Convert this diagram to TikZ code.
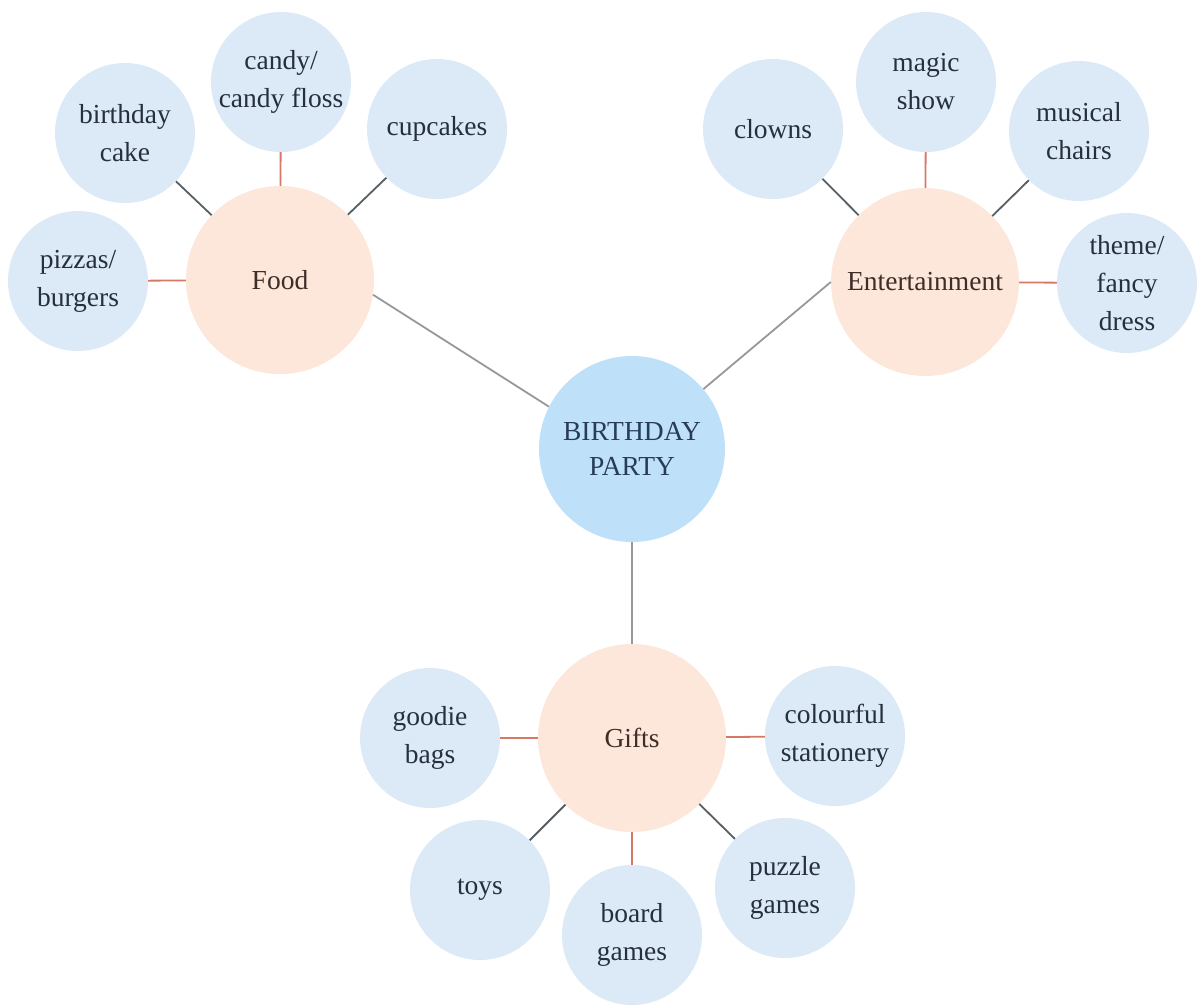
\documentclass[tikz,border=0pt]{standalone}
\usepackage{fontspec}
\setmainfont{Liberation Serif}
\definecolor{leafblue}{RGB}{219,234,246}
\definecolor{catpeach}{RGB}{253,230,218}
\definecolor{hubblue}{RGB}{190,225,249}
\definecolor{leaftext}{RGB}{38,48,60}
\definecolor{cattext}{RGB}{62,46,40}
\definecolor{hubtext}{RGB}{40,60,88}
\definecolor{diagline}{RGB}{85,95,100}
\definecolor{redline}{RGB}{214,120,104}
\definecolor{hubline}{RGB}{150,152,155}
\tikzset{
  leaf/.style={circle, fill=leafblue, minimum size=140pt, inner sep=0pt, align=center, text=leaftext, font=\fontsize{27.5}{38}\selectfont},
  cat/.style={circle, fill=catpeach, minimum size=188pt, inner sep=0pt, align=center, text=cattext, font=\fontsize{27.5}{38}\selectfont},
  hub/.style={circle, fill=hubblue, minimum size=186pt, inner sep=0pt, align=center, text=hubtext, font=\fontsize{27.5}{35}\selectfont},
  dline/.style={draw=diagline, line width=1.8pt},
  rline/.style={draw=redline, line width=1.8pt},
  hline/.style={draw=hubline, line width=1.8pt}
}
\begin{document}
\begin{tikzpicture}[x=1pt,y=-1pt]
\useasboundingbox (0,0) rectangle (1197,1005);
% hub and categories
\node[hub] (bp) at (632,449) {BIRTHDAY\\PARTY};
\node[cat] (food) at (280,280) {Food};
\node[cat] (ent) at (925,282) {Entertainment};
\node[cat] (gifts) at (632,738) {Gifts};
% food leaves
\node[leaf] (pizza) at (78,281) {pizzas/\\burgers};
\node[leaf] (cake) at (125,133) {birthday\\cake};
\node[leaf] (candy) at (281,82) {candy/\\candy floss};
\node[leaf] (cup) at (437,129) {cupcakes};
% entertainment leaves
\node[leaf] (clown) at (773,129) {clowns};
\node[leaf] (magic) at (926,82) {magic\\show};
\node[leaf] (music) at (1079,131) {musical\\chairs};
\node[leaf] (theme) at (1127,283) {theme/\\fancy\\dress};
% gifts leaves
\node[leaf] (goodie) at (430,738) {goodie\\bags};
\node[leaf] (station) at (835,736) {colourful\\stationery};
\node[leaf] (toys) at (480,890) {toys};
\node[leaf] (board) at (632,935) {board\\games};
\node[leaf] (puzzle) at (785,888) {puzzle\\games};
% hub connectors
\draw[hline] (food.-9) -- (bp.153);
\draw[hline] (ent.180) -- (bp.40);
\draw[hline] (bp) -- (gifts);
% food connectors
\draw[rline] (food) -- (pizza);
\draw[dline] (food) -- (cake);
\draw[rline] (food) -- (candy);
\draw[dline] (food) -- (cup);
% entertainment connectors
\draw[dline] (ent) -- (clown);
\draw[rline] (ent) -- (magic);
\draw[dline] (ent) -- (music);
\draw[rline] (ent) -- (theme);
% gifts connectors
\draw[rline] (gifts) -- (goodie);
\draw[rline] (gifts) -- (station);
\draw[dline] (gifts) -- (toys);
\draw[rline] (gifts) -- (board);
\draw[dline] (gifts) -- (puzzle);
\end{tikzpicture}
\end{document}
